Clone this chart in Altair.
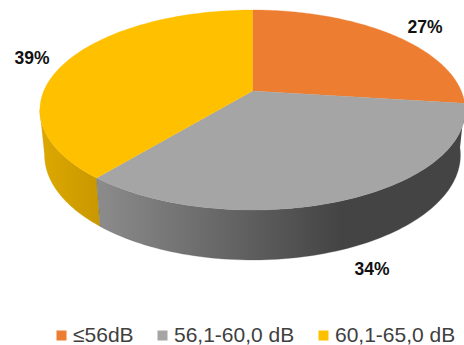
import numpy as np
import pandas as pd
import altair as alt

categories = ["≤56dB", "56,1-60,0 dB", "60,1-65,0 dB"]
shares = [27, 34, 39]
colors = ["#ED7D31", "#A5A5A5", "#FFC000"]

# Perspective view of the disc: centre, width factor, height factor, viewer distance
CX, CY, AX, BY, DIST = 252.5, 91.0, 1098.0, 507.0, 5.26
# Lower rim of the disc: horizontal and vertical scale, centre height
RIM_SX, RIM_SY, RIM_Y = 0.978, 1.05, 135.0
W, H = 464, 345


def project(turn, sx=1.0, sy=1.0, cy=CY):
    """Map a clockwise angle (fraction of a turn from 12 o'clock) onto the tilted disc."""
    a = 2 * np.pi * np.asarray(turn)
    u, v = np.sin(a), -np.cos(a)
    return CX + sx * AX * u / (DIST - v), cy + sy * BY * v / (DIST - v)


edges = np.cumsum([0] + shares) / sum(shares)

top_rows = []
for k, name in enumerate(categories):
    t = np.linspace(edges[k], edges[k + 1], 90)
    x, y = project(t)
    xs = [CX, *x, CX]
    ys = [CY, *y, CY]
    top_rows += [
        {"slice": name, "i": i, "x": a, "y": b} for i, (a, b) in enumerate(zip(xs, ys))
    ]
top = pd.DataFrame(top_rows)


def wall_frame(start, end):
    t = np.linspace(start, end, 90)
    x1, y1 = project(t)
    x2, y2 = project(t[::-1], RIM_SX, RIM_SY, RIM_Y)
    xs = [*x1, *x2]
    ys = [*y1, *y2]
    return pd.DataFrame({"i": range(len(xs)), "x": xs, "y": ys})


x_scale = alt.Scale(domain=[0, W], range=[0, W], nice=False, zero=False)
y_scale = alt.Scale(domain=[0, H], range=[0, H], nice=False, zero=False)
X = alt.X("x:Q", scale=x_scale, axis=None)
Y = alt.Y("y:Q", scale=y_scale, axis=None)


def h_gradient(stops):
    return alt.Gradient(
        gradient="linear",
        x1=0, x2=1, y1=0, y2=0,
        stops=[alt.GradientStop(offset=o, color=c) for o, c in stops],
    )


# Outer walls, painted before the disc face covers their upper edge;
# the gold one stops at the disc's leftmost point, which closes the silhouette
grey_wall = (
    alt.Chart(wall_frame(edges[1], edges[2]))
    .mark_line(
        fill=h_gradient([(0, "#8C8C8C"), (0.42, "#5E5E5E"), (0.66, "#444444"), (1, "#444444")]),
        stroke="#555555", strokeWidth=0.3, interpolate="linear",
    )
    .encode(x=X, y=Y, order="i:Q")
)
gold_wall = (
    alt.Chart(wall_frame(edges[2], 0.72))
    .mark_line(
        fill=h_gradient([(0, "#DCA800"), (1, "#C99800")]),
        stroke="#CFA000", strokeWidth=0.3, interpolate="linear",
    )
    .encode(x=X, y=Y, order="i:Q")
)

legend = alt.Legend(
    orient="none", legendX=51, legendY=325, direction="horizontal", title=None,
    symbolType="square", symbolSize=100, symbolStrokeWidth=0,
    labelFont="Liberation Sans", labelFontSize=21, labelColor="#404040",
    labelOffset=1, columnPadding=18, padding=0, gridAlign="none",
)
faces = (
    alt.Chart(top)
    .mark_line(strokeWidth=0.3, interpolate="linear")
    .encode(
        x=X, y=Y, order="i:Q",
        detail="slice:N",
        fill=alt.Fill("slice:N", scale=alt.Scale(domain=categories, range=colors),
                      sort=categories, legend=legend),
        stroke=alt.Stroke("slice:N", scale=alt.Scale(domain=categories, range=colors), legend=None),
    )
)

labels = pd.DataFrame({
    "text": [f"{s}%" for s in shares],
    "x": [425, 372, 32],
    "y": [28, 270, 59],
})
percent = (
    alt.Chart(labels)
    .mark_text(font="Liberation Sans", fontWeight="bold", fontSize=17.5,
               color="#111111", align="center", baseline="middle")
    .encode(x=X, y=Y, text="text:N")
)

chart = (
    alt.layer(gold_wall, grey_wall, faces, percent)
    .properties(width=W, height=H, padding=0, autosize=alt.AutoSizeParams(type="none"))
    .configure_view(stroke=None)
    .resolve_scale(fill="independent", stroke="independent")
)
chart.save("out.html", embed_options={"renderer": "svg", "actions": False})
